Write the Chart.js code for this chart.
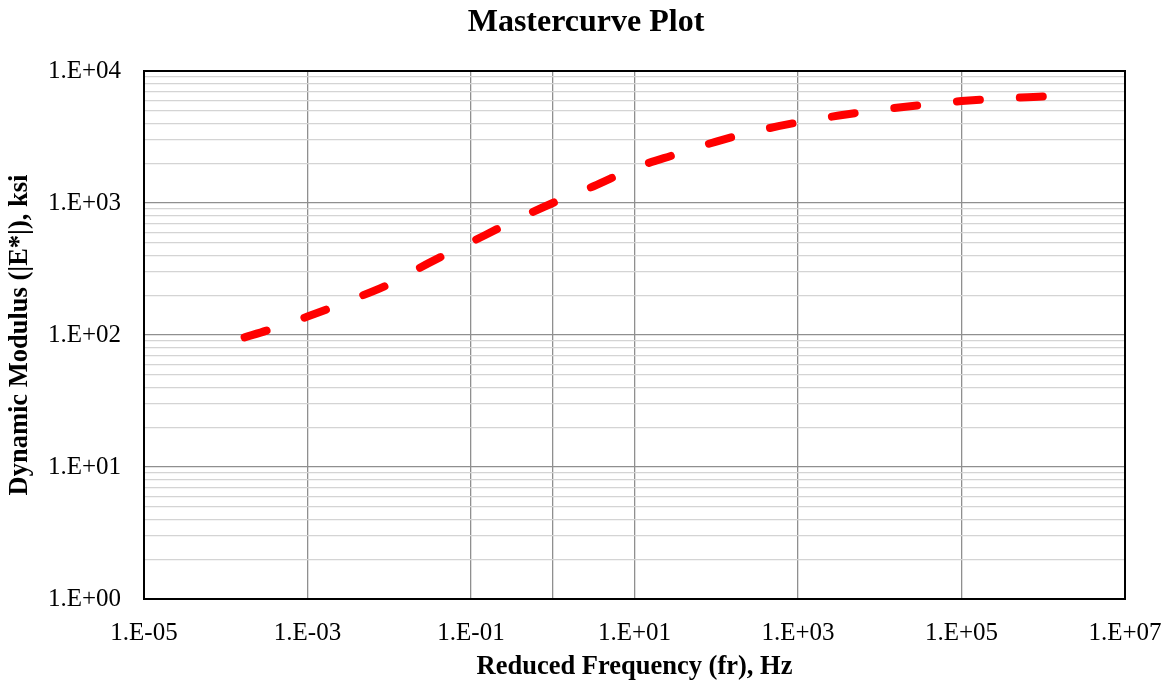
<!DOCTYPE html>
<html>
<head>
<meta charset="utf-8">
<title>Mastercurve Plot</title>
<script src="https://cdn.jsdelivr.net/npm/chart.js@4.4.1/dist/chart.umd.min.js"></script>
<style>
  html, body { margin: 0; padding: 0; background: #ffffff; }
  #wrap { width: 1172px; height: 684px; position: relative; }
</style>
</head>
<body>
<div id="wrap"><canvas id="chart"></canvas></div>
<script>
// Reduced frequency (Hz) and dynamic modulus |E*| (ksi) along the master curve
const reducedFrequency = [1.7e-4, 3.16e-4, 1e-3, 3.16e-3, 1e-2, 3.16e-2, 1e-1, 3.16e-1, 1, 3.16, 10, 31.6, 100, 316, 1000, 3160, 1e4, 3.16e4, 1e5, 3.16e5, 1e6, 1.15e6];
const dynamicModulus   = [96, 108, 138, 181, 243, 355, 505, 720, 1000, 1340, 1840, 2330, 2920, 3520, 4080, 4600, 5080, 5520, 5920, 6210, 6410, 6460];

// Axis labels (decade exponents and their printed text)
const xTickExponents = [-5, -3, -1, 1, 3, 5, 7];
const xTickLabels    = ['1.E-05', '1.E-03', '1.E-01', '1.E+01', '1.E+03', '1.E+05', '1.E+07'];
const xGridExponents = [-3, -1, 0, 1, 3, 5];
const yTickExponents = [0, 1, 2, 3, 4];
const yTickLabels    = ['1.E+00', '1.E+01', '1.E+02', '1.E+03', '1.E+04'];

const points = reducedFrequency.map((f, i) => ({ x: f, y: dynamicModulus[i] }));

const SERIF = '"Liberation Serif", "Times New Roman", Times, serif';

function expOf(v) { return Math.round(Math.log10(v) * 1000) / 1000; }

// Black frame around the plot area
const frame = {
  id: 'frame',
  afterDraw(chart) {
    const { ctx, chartArea: a } = chart;
    ctx.save();
    ctx.strokeStyle = '#000000';
    ctx.lineWidth = 2;
    ctx.strokeRect(a.left, a.top, a.right - a.left, a.bottom - a.top);
    ctx.restore();
  }
};

new Chart(document.getElementById('chart'), {
  type: 'scatter',
  data: {
    datasets: [{
      data: points,
      showLine: true,
      borderColor: '#ff0000',
      borderWidth: 8,
      borderDash: [23, 40],
      borderCapStyle: 'round',
      borderJoinStyle: 'round',
      cubicInterpolationMode: 'monotone',
      pointRadius: 0,
      pointHoverRadius: 0,
      fill: false
    }]
  },
  options: {
    responsive: true,
    maintainAspectRatio: false,
    animation: false,
    events: [],
    layout: { padding: 0 },
    plugins: {
      legend: { display: false },
      tooltip: { enabled: false },
      title: {
        display: true,
        text: 'Mastercurve Plot',
        color: '#000000',
        font: { family: SERIF, size: 32, weight: 'bold', lineHeight: 1.2 },
        padding: { top: 4, bottom: 28.6 }
      }
    },
    scales: {
      x: {
        type: 'logarithmic',
        min: 1e-5,
        max: 1e7,
        afterBuildTicks(scale) {
          const t = [];
          for (let e = -5; e <= 7; e++) t.push({ value: Math.pow(10, e) });
          scale.ticks = t;
        },
        afterFit(scale) {
          scale.height = 85;
          scale.paddingLeft = 0;
          scale.paddingRight = 47;
        },
        ticks: {
          autoSkip: false,
          maxRotation: 0,
          padding: 19,
          color: '#000000',
          font: { family: SERIF, size: 25 },
          callback(value) {
            const i = xTickExponents.indexOf(expOf(value));
            return i >= 0 ? xTickLabels[i] : '';
          }
        },
        grid: {
          drawTicks: false,
          lineWidth: 1.3,
          color(ctx) {
            if (!ctx.tick) return 'transparent';
            return xGridExponents.includes(expOf(ctx.tick.value)) ? '#8f8f8f' : 'transparent';
          }
        },
        border: { display: false },
        title: {
          display: true,
          text: 'Reduced Frequency (fr), Hz',
          color: '#000000',
          font: { family: SERIF, size: 26.5, weight: 'bold', lineHeight: 1.2 },
          padding: { top: 0, bottom: 1 }
        }
      },
      y: {
        type: 'logarithmic',
        min: 1,
        max: 1e4,
        afterBuildTicks(scale) {
          const t = [];
          for (let e = 0; e < 4; e++) {
            for (let m = 1; m <= 9; m++) t.push({ value: m * Math.pow(10, e) });
          }
          t.push({ value: 1e4 });
          scale.ticks = t;
        },
        afterFit(scale) { scale.width = 144; },
        ticks: {
          autoSkip: false,
          padding: 23,
          color: '#000000',
          font: { family: SERIF, size: 25 },
          callback(value) {
            const i = yTickExponents.indexOf(expOf(value));
            return i >= 0 ? yTickLabels[i] : '';
          }
        },
        grid: {
          drawTicks: false,
          lineWidth(ctx) {
            if (!ctx.tick) return 1;
            return Number.isInteger(expOf(ctx.tick.value)) ? 1.3 : 1.2;
          },
          color(ctx) {
            if (!ctx.tick) return 'transparent';
            return Number.isInteger(expOf(ctx.tick.value)) ? '#8f8f8f' : '#d4d4d4';
          }
        },
        border: { display: false },
        title: {
          display: true,
          text: 'Dynamic Modulus (|E*|), ksi',
          color: '#000000',
          font: { family: SERIF, size: 26.5, weight: 'bold', lineHeight: 1.2 },
          padding: { top: 4, bottom: 0 }
        }
      }
    }
  },
  plugins: [frame]
});
</script>
</body>
</html>
